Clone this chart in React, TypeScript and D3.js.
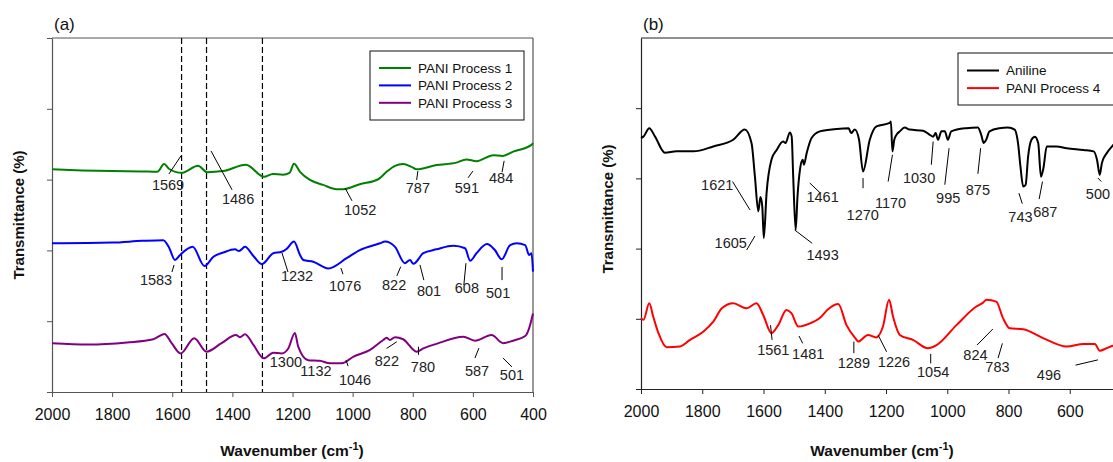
import React, { useEffect, useRef } from 'react';
import * as d3 from 'd3';

// wavenumber (cm-1), transmittance (arbitrary offset units)
const xTicksA = [2000, 1800, 1600, 1400, 1200, 1000, 800, 600, 400];
const xTicksB = [2000, 1800, 1600, 1400, 1200, 1000, 800, 600];

const pani1 = [
  [2000, 62.9], [1900, 62.6], [1800, 62.4], [1700, 62.3], [1650, 62.2], [1627, 64.4], [1610, 63.0],
  [1569, 61.9], [1514, 63.9], [1484, 62.1], [1431, 62.4], [1355, 64.2], [1295, 60.8], [1265, 61.6],
  [1232, 61.4], [1210, 61.9], [1195, 64.5], [1175, 62.2], [1142, 59.9], [1098, 58.5], [1053, 57.3],
  [1031, 57.3], [976, 58.7], [915, 60.1], [887, 62.2], [859, 63.9], [832, 64.4], [804, 63.6],
  [787, 62.9], [721, 64.1], [655, 64.8], [622, 65.7], [588, 65.2], [532, 66.9], [501, 66.7],
  [466, 67.9], [405, 69.8], [400, 70.3],
];

const pani2 = [
  [2000, 42.0], [1800, 42.2], [1700, 42.7], [1630, 42.9], [1610, 40.7], [1591, 37.3], [1574, 38.7],
  [1532, 41.0], [1493, 35.6], [1463, 38.2], [1430, 39.4], [1391, 40.3], [1378, 39.8], [1358, 41.0],
  [1330, 38.4], [1302, 36.1], [1264, 39.2], [1236, 39.6], [1220, 40.4], [1195, 42.5], [1175, 38.7],
  [1164, 37.3], [1131, 36.8], [1081, 34.9], [1020, 37.8], [976, 40.1], [909, 42.0], [892, 42.5],
  [859, 41.0], [826, 36.4], [809, 37.3], [798, 36.2], [765, 39.2], [721, 40.3], [665, 41.3],
  [626, 40.6], [609, 37.1], [588, 39.2], [553, 41.8], [527, 40.1], [504, 37.5], [476, 41.5],
  [454, 42.0], [426, 41.5], [413, 38.7], [405, 39.2], [400, 34.0],
];

const pani3 = [
  [2000, 13.8], [1880, 13.4], [1750, 14.0], [1663, 14.9], [1626, 16.4], [1602, 13.8], [1572, 10.9],
  [1527, 15.2], [1486, 11.4], [1436, 13.8], [1388, 16.1], [1375, 15.5], [1358, 16.3], [1330, 13.3],
  [1295, 9.5], [1264, 11.1], [1236, 10.9], [1214, 12.3], [1192, 16.7], [1181, 12.8], [1148, 9.0],
  [1109, 8.8], [1075, 8.1], [1036, 8.1], [997, 10.0], [942, 11.9], [898, 14.7], [887, 15.3],
  [876, 14.7], [859, 15.5], [832, 14.9], [787, 11.4], [765, 12.3], [721, 13.6], [632, 15.6],
  [593, 14.5], [538, 16.1], [499, 13.8], [466, 14.5], [426, 15.8], [415, 17.5], [400, 22.2],
];

const aniline = [
  [2000, 71.5], [1992, 71.9], [1973, 74.3], [1954, 71.9], [1922, 67.3], [1884, 67.7], [1829, 67.7],
  [1764, 69.1], [1699, 71.0], [1661, 73.9], [1639, 70.0], [1628, 60.5], [1617, 50.6], [1610, 54.7],
  [1604, 52.0], [1599, 43.0], [1590, 55.8], [1574, 65.3], [1557, 68.1], [1536, 70.5], [1528, 70.1],
  [1514, 73.1], [1508, 71.9], [1503, 60.5], [1495, 45.3], [1489, 54.8], [1481, 62.4], [1472, 65.3],
  [1468, 63.9], [1459, 67.2], [1443, 71.5], [1416, 73.4], [1361, 74.1], [1322, 74.3], [1314, 72.9],
  [1302, 73.9], [1288, 71.0], [1275, 62.0], [1253, 71.0], [1231, 74.8], [1188, 75.8], [1184, 76.2],
  [1179, 67.7], [1173, 71.0], [1166, 72.4], [1155, 73.4], [1139, 74.5], [1123, 73.9], [1079, 73.6],
  [1057, 72.4], [1046, 71.9], [1038, 72.9], [1030, 71.0], [1019, 73.4], [1008, 73.4], [998, 71.0],
  [987, 73.4], [938, 74.3], [900, 74.5], [889, 72.4], [881, 70.1], [873, 71.0], [862, 73.4],
  [829, 74.3], [802, 74.5], [780, 73.9], [769, 70.1], [761, 63.4], [752, 57.7], [744, 58.2],
  [736, 66.2], [725, 71.0], [714, 71.9], [703, 70.1], [694, 60.5], [686, 62.9], [675, 69.1],
  [643, 69.1], [610, 68.6], [555, 68.1], [522, 67.7], [511, 65.3], [502, 61.0], [495, 64.4],
  [479, 67.2], [462, 69.1], [440, 71.0], [400, 71.6],
];

const pani4 = [
  [2000, 20.2], [1992, 19.7], [1973, 24.4], [1960, 20.6], [1943, 15.9], [1916, 11.9], [1873, 12.1],
  [1840, 14.0], [1796, 16.4], [1764, 19.2], [1736, 23.0], [1699, 24.4], [1655, 23.0], [1623, 24.4],
  [1601, 21.1], [1574, 15.9], [1552, 18.2], [1525, 22.5], [1509, 21.6], [1486, 17.8], [1448, 18.7],
  [1416, 20.2], [1389, 22.7], [1356, 24.2], [1329, 18.2], [1296, 14.0], [1291, 13.5], [1259, 15.4],
  [1232, 14.7], [1210, 17.8], [1190, 25.4], [1177, 20.6], [1155, 15.4], [1112, 14.0], [1063, 11.6],
  [1035, 12.5], [970, 18.2], [905, 23.5], [883, 24.6], [872, 25.4], [840, 24.9], [818, 20.2],
  [796, 17.3], [752, 17.0], [687, 14.5], [610, 12.1], [555, 12.8], [518, 12.8], [502, 10.9],
  [480, 11.6], [459, 12.3], [400, 12.5],
];

const dashedPeaks = [1569, 1486, 1300];

// peak labels: text centre (wavenumber, value) and optional leader line
const labelsA = [
  { t: '1569', x: 1614, y: 57.1, l: [1571, 66.7, 1611, 61.6] },
  { t: '1486', x: 1381, y: 53.1, l: [1471, 68.1, 1401, 57.1] },
  { t: '1052', x: 975, y: 50.0, l: [1025, 57.6, 1002, 54.0] },
  { t: '787', x: 783, y: 56.2, l: [783, 62.4, 787, 59.9] },
  { t: '591', x: 620, y: 56.2, l: [600, 62.4, 616, 60.5] },
  { t: '484', x: 506, y: 59.0, l: [496, 65.3, 503, 62.1] },
  { t: '1583', x: 1654, y: 30.2, l: [1594, 35.9, 1601, 33.9] },
  { t: '1232', x: 1185, y: 31.4, l: [1235, 39.3, 1215, 33.9] },
  { t: '1076', x: 1025, y: 28.5, l: [1039, 35.0, 1032, 33.3] },
  { t: '822', x: 862, y: 28.8, l: [840, 35.4, 853, 32.8] },
  { t: '801', x: 746, y: 27.1, l: [776, 35.9, 763, 31.6] },
  { t: '608', x: 620, y: 28.0, l: [623, 36.4, 630, 30.2] },
  { t: '501', x: 516, y: 26.6, l: [503, 35.3, 503, 31.6] },
  { t: '1300', x: 1222, y: 7.2, l: null },
  { t: '1132', x: 1122, y: 4.5, l: null },
  { t: '1046', x: 992, y: 2.0, l: [1022, 9.0, 1015, 7.3] },
  { t: '822', x: 886, y: 7.3, l: [853, 14.2, 887, 12.3] },
  { t: '780', x: 766, y: 5.6, l: [781, 12.8, 781, 10.5] },
  { t: '587', x: 586, y: 4.5, l: [580, 12.4, 593, 9.6] },
  { t: '501', x: 470, y: 3.4, l: [500, 9.6, 470, 7.1] },
];

const labelsB = [
  { t: '1621', x: 1751, y: 56.7, l: [1701, 59.1, 1644, 51.0] },
  { t: '1461', x: 1407, y: 53.4, l: [1449, 58.7, 1414, 55.8] },
  { t: '1605', x: 1707, y: 40.1, l: [1655, 39.6, 1628, 43.6] },
  { t: '1493', x: 1407, y: 36.8, l: [1498, 45.3, 1441, 41.5] },
  { t: '1270', x: 1276, y: 48.2, l: [1275, 60.1, 1275, 57.2] },
  { t: '1170', x: 1185, y: 51.5, l: [1179, 66.7, 1193, 59.1] },
  { t: '1030', x: 1092, y: 58.7, l: [1046, 70.5, 1052, 63.9] },
  { t: '995', x: 997, y: 53.0, l: [994, 68.6, 1008, 58.2] },
  { t: '875', x: 900, y: 55.3, l: [891, 68.6, 900, 61.3] },
  { t: '743', x: 761, y: 47.7, l: [766, 55.8, 755, 52.8] },
  { t: '687', x: 680, y: 49.1, l: [689, 59.1, 700, 54.1] },
  { t: '500', x: 508, y: 54.1, l: [508, 60.1, 497, 59.1] },
  { t: '1561', x: 1568, y: 9.7, l: [1577, 18.2, 1572, 14.0] },
  { t: '1481', x: 1454, y: 8.5, l: [1484, 15.1, 1472, 13.0] },
  { t: '1289', x: 1305, y: 5.9, l: [1305, 13.5, 1305, 10.2] },
  { t: '1226', x: 1174, y: 6.4, l: [1226, 15.4, 1198, 10.6] },
  { t: '1054', x: 1046, y: 3.5, l: [1054, 10.0, 1054, 7.3] },
  { t: '824', x: 908, y: 8.3, l: [851, 17.1, 903, 12.5] },
  { t: '783', x: 836, y: 4.9, l: [820, 13.0, 834, 8.8] },
  { t: '496', x: 668, y: 2.6, l: [581, 6.8, 508, 8.3] },
];

const FONT = '"Liberation Sans", Arial, sans-serif';

const drawPanel = (svg, o) => {
  const x = d3.scaleLinear().domain([2000, 400]).range([o.left, o.right]);
  const y = d3.scaleLinear().domain([0, 100]).range([o.bottom, o.top]);
  const g = svg.append('g');

  // frame
  g.append('line').attr('x1', o.left).attr('x2', o.right).attr('y1', o.top).attr('y2', o.top)
    .attr('stroke', o.frame).attr('stroke-width', 1.2);
  g.append('line').attr('x1', o.right).attr('x2', o.right).attr('y1', o.top).attr('y2', o.bottom)
    .attr('stroke', o.frame).attr('stroke-width', 1.2);

  const xa = g.append('g').attr('transform', `translate(0,${o.bottom})`)
    .call(d3.axisBottom(x).tickValues(o.xTicks).tickSize(5).tickSizeOuter(0).tickPadding(12).tickFormat(d3.format('d')));
  const ya = g.append('g').attr('transform', `translate(${o.left},0)`)
    .call(d3.axisLeft(y).tickValues([0, 20, 40, 60, 80, 100].slice(0, o.nTicks)).tickSize(5).tickSizeOuter(0).tickFormat(() => ''));
  [xa, ya].forEach(a => {
    a.select('.domain').attr('stroke', o.frame).attr('stroke-width', 1.2);
    a.selectAll('line').attr('stroke', o.frame);
    a.selectAll('text').attr('font-size', 16).attr('font-family', FONT).attr('fill', '#111');
  });

  if (o.dashed) {
    o.dashed.forEach(w => {
      g.append('line').attr('x1', x(w)).attr('x2', x(w)).attr('y1', o.top).attr('y2', o.bottom)
        .attr('stroke', '#000').attr('stroke-width', 1.2).attr('stroke-dasharray', '6,3');
    });
  }

  const line = d3.line().x(d => x(d[0])).y(d => y(d[1])).curve(d3.curveMonotoneX);
  o.series.forEach(s => {
    g.append('path').datum(s.data).attr('d', line).attr('fill', 'none')
      .attr('stroke', s.color).attr('stroke-width', 2).attr('stroke-linejoin', 'round');
  });

  o.labels.forEach(lb => {
    if (lb.l) {
      g.append('line').attr('x1', x(lb.l[0])).attr('y1', y(lb.l[1])).attr('x2', x(lb.l[2])).attr('y2', y(lb.l[3]))
        .attr('stroke', '#000').attr('stroke-width', 1);
    }
    g.append('text').attr('x', x(lb.x)).attr('y', y(lb.y)).attr('text-anchor', 'middle')
      .attr('font-size', 14.5).attr('font-family', FONT).attr('fill', '#222').text(lb.t);
  });

  // legend
  const lg = g.append('g');
  lg.append('rect').attr('x', o.legend.x).attr('y', o.legend.y).attr('width', o.legend.w).attr('height', o.legend.h)
    .attr('fill', '#fff').attr('stroke', '#111').attr('stroke-width', 1);
  o.series.forEach((s, i) => {
    const ly = o.legend.y + o.legend.first + i * o.legend.step;
    lg.append('line').attr('x1', o.legend.x + 9).attr('x2', o.legend.x + 41).attr('y1', ly).attr('y2', ly)
      .attr('stroke', s.color).attr('stroke-width', 2);
    lg.append('text').attr('x', o.legend.x + 48).attr('y', ly).attr('dy', '0.35em')
      .attr('font-size', 13.5).attr('font-family', FONT).attr('fill', '#111').text(s.name);
  });

  // titles
  g.append('text').attr('x', o.left + 2).attr('y', 30).attr('font-size', 17).attr('font-family', FONT)
    .attr('fill', '#111').text(o.tag);
  g.append('text').attr('transform', `translate(${o.yTitleX},${o.yTitleY}) rotate(-90)`).attr('text-anchor', 'middle')
    .attr('dy', '0.35em').attr('font-size', 15).attr('font-weight', 'bold').attr('font-family', FONT)
    .attr('fill', '#111').text('Transmittance (%)');
  const xt = g.append('text').attr('x', o.xTitleX).attr('y', 456).attr('text-anchor', 'middle')
    .attr('font-size', 15.5).attr('font-weight', 'bold').attr('font-family', FONT).attr('fill', '#111');
  xt.append('tspan').text('Wavenumber (cm');
  xt.append('tspan').attr('dy', -6).attr('font-size', 11).text('-1');
  xt.append('tspan').attr('dy', 6).text(')');
};

const App = () => {
  const ref = useRef(null);

  useEffect(() => {
    const svg = d3.select(ref.current);
    svg.selectAll('*').remove();

    drawPanel(svg, {
      left: 52, right: 533, top: 38, bottom: 392, nTicks: 6, frame: '#555', tag: '(a)',
      xTicks: xTicksA,
      dashed: dashedPeaks,
      series: [
        { name: 'PANI Process 1', data: pani1, color: '#008000' },
        { name: 'PANI Process 2', data: pani2, color: '#0000ff' },
        { name: 'PANI Process 3', data: pani3, color: '#800080' },
      ],
      labels: labelsA,
      legend: { x: 370, y: 51, w: 154, h: 69, first: 17, step: 17.4 },
      yTitleX: 19, yTitleY: 215, xTitleX: 292,
    });

    drawPanel(svg, {
      left: 641, right: 1131, top: 38, bottom: 389, nTicks: 5, frame: '#222', tag: '(b)',
      xTicks: xTicksB,
      dashed: null,
      series: [
        { name: 'Aniline', data: aniline, color: '#000' },
        { name: 'PANI Process 4', data: pani4, color: '#ff0000' },
      ],
      labels: labelsB,
      legend: { x: 958, y: 53, w: 170, h: 52, first: 17.5, step: 17.6 },
      yTitleX: 608, yTitleY: 209, xTitleX: 882,
    });

    return () => {
      svg.selectAll('*').remove();
    };
  }, []);

  return (
    <svg ref={ref} width={1113} height={462}
      style={{ position: 'absolute', left: 0, top: 0, background: '#fff' }} />
  );
};

export default App;
